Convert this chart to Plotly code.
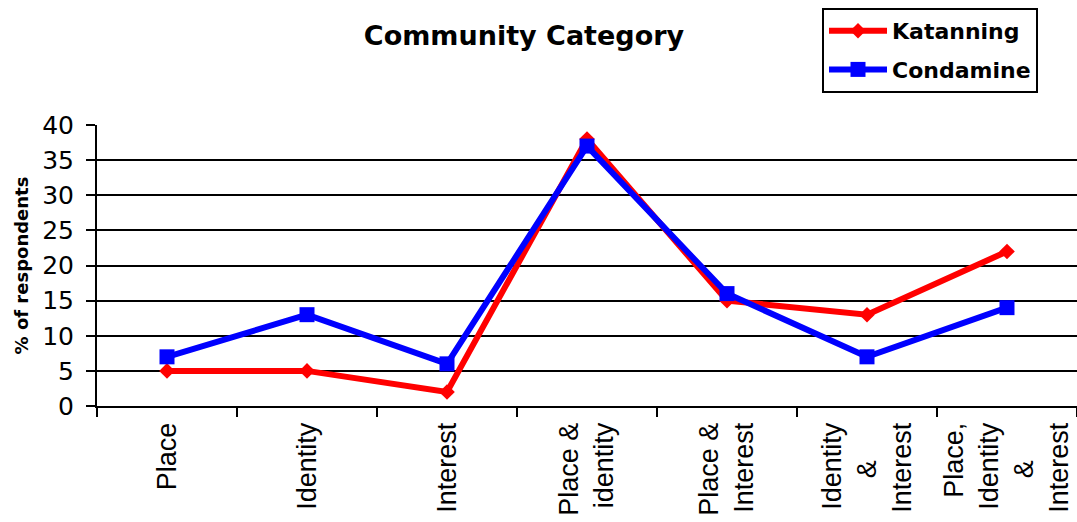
import plotly.graph_objects as go

# Community categories and the share of respondents in each town
categories = [
    "Place",
    "Identity",
    "Interest",
    "Place & identity",
    "Place & Interest",
    "Identity & Interest",
    "Place, Identity & Interest",
]
tick_labels = [
    "Place",
    "Identity",
    "Interest",
    "Place &<br>identity",
    "Place &<br>Interest",
    "Identity<br>&" + "\u00a0" * 5 + "<br>Interest",
    "Place,<br>Identity<br>&" + "\u00a0" * 5 + "<br>Interest",
]
katanning = [5, 5, 2, 38, 15, 13, 22]
condamine = [7, 13, 6, 37, 16, 7, 14]
y_ticks = [0, 5, 10, 15, 20, 25, 30, 35, 40]

WIDE = "DejaVu Sans, Arial, sans-serif"
ARIAL = "'Liberation Sans', Arial, sans-serif"

fig = go.Figure()
fig.add_trace(go.Scatter(
    x=categories, y=katanning, name="Katanning", legendgroup="k",
    mode="lines+markers",
    line=dict(color="#ff0000", width=6),
    marker=dict(symbol="diamond", size=12, color="#ff0000"),
))
fig.add_trace(go.Scatter(
    x=categories, y=condamine, name="Condamine", legendgroup="c",
    mode="lines+markers",
    line=dict(color="#0000ff", width=6),
    marker=dict(symbol="square", size=15, color="#0000ff"),
))

fig.update_layout(
    width=1077, height=522,
    margin=dict(l=97, r=0, t=125, b=116, autoexpand=False),
    paper_bgcolor="white", plot_bgcolor="white",
    title=dict(
        text="<b>Community Category</b>",
        font=dict(family=WIDE, size=27, color="black"),
        x=524 / 1077, xanchor="center", xref="container",
        y=1 - 36 / 522, yanchor="middle", yref="container",
    ),
    showlegend=True,
    legend=dict(
        x=822 / 1077, xref="container", xanchor="left",
        y=1 - 8 / 522, yref="container", yanchor="top",
        bordercolor="black", borderwidth=2, bgcolor="white",
        font=dict(family=WIDE, size=22, color="black", weight="bold"),
        traceorder="grouped", tracegroupgap=7, itemwidth=58,
    ),
    xaxis=dict(
        type="category", range=[-0.5, 6.5],
        tickvals=categories, ticktext=tick_labels,
        tickson="boundaries", ticks="outside", ticklen=9, tickwidth=2,
        tickcolor="black", tickangle=-90,
        tickfont=dict(family=ARIAL, size=27, color="black"),
        ticklabelstandoff=4,
        showline=True, linecolor="black", linewidth=2,
        showgrid=False, zeroline=False,
    ),
    yaxis=dict(
        range=[0, 40], tickvals=y_ticks,
        ticks="outside", ticklen=9, tickwidth=2, tickcolor="black",
        tickfont=dict(family=WIDE, size=25, color="black"),
        ticklabelstandoff=7,
        showline=True, linecolor="black", linewidth=2,
        showgrid=True, gridcolor="black", gridwidth=2,
        zeroline=False,
        title=dict(text="<b>% of respondents</b>",
                   font=dict(family=WIDE, size=18, color="black"),
                   standoff=9),
    ),
)

fig.write_html("out.html")
